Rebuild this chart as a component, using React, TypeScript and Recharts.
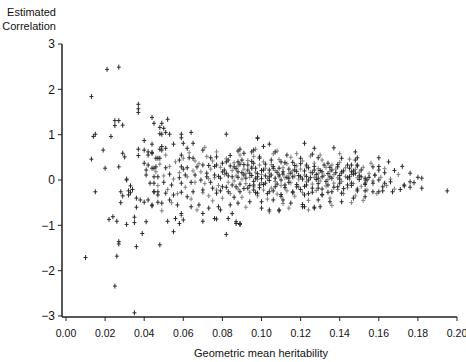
import { Scatter, ScatterChart, XAxis, YAxis } from "recharts";

// [geometric mean heritability, estimated correlation]
const lowHeritability: [number, number][] = [
  [0.021, 2.44], [0.027, 2.49], [0.013, 1.84], [0.037, 1.67], [0.037, 1.57],
  [0.037, 1.49], [0.025, 1.31], [0.027, 1.31], [0.025, 1.2], [0.029, 1.21],
  [0.044, 1.38], [0.045, 1.25], [0.048, 1.16], [0.048, 1.02], [0.049, 1.25],
  [0.052, 1.34], [0.05, 1.14], [0.014, 0.96], [0.015, 1.01], [0.023, 0.96],
  [0.04, 0.87], [0.019, 0.66], [0.029, 0.59], [0.03, 0.51], [0.037, 0.68],
  [0.037, 0.54], [0.04, 0.66], [0.042, 0.62], [0.044, 0.61], [0.048, 0.68],
  [0.042, 0.55], [0.013, 0.46], [0.04, 0.37], [0.042, 0.33], [0.046, 0.48],
  [0.02, 0.26], [0.027, 0.29], [0.041, 0.22], [0.045, 0.26], [0.031, 0.02],
  [0.041, 0.11], [0.015, -0.26], [0.031, 0.0], [0.033, -0.13], [0.034, -0.21],
  [0.028, -0.26], [0.029, -0.35], [0.032, -0.33], [0.032, -0.24], [0.033, -0.28],
  [0.028, -0.5], [0.036, -0.4], [0.036, -0.6], [0.038, -0.44], [0.04, -0.49],
  [0.042, -0.44], [0.044, -0.57], [0.045, -0.26], [0.047, -0.26], [0.047, -0.49],
  [0.043, -0.07], [0.045, 0.07], [0.022, -0.87], [0.024, -0.81], [0.026, -0.91],
  [0.031, -0.98], [0.035, -0.94], [0.035, -0.82], [0.041, -0.92], [0.039, -1.18],
  [0.027, -1.36], [0.027, -1.41], [0.036, -1.47], [0.048, -1.43], [0.01, -1.71],
  [0.026, -1.68], [0.025, -2.34], [0.035, -2.93],
];

const midHeritability: [number, number][] = [
  [0.049, 1.01], [0.051, 1.05], [0.053, 1.01], [0.059, 1.01], [0.059, 0.93],
  [0.064, 1.05], [0.082, 1.01], [0.098, 0.93], [0.044, 0.79], [0.049, 0.74],
  [0.051, 0.7], [0.049, 0.66], [0.055, 0.79], [0.06, 0.81], [0.065, 0.81],
  [0.062, 0.7], [0.047, 0.48], [0.048, 0.48], [0.044, 0.59], [0.059, 0.55],
  [0.058, 0.44], [0.07, 0.66], [0.074, 0.49], [0.077, 0.51], [0.084, 0.54],
  [0.088, 0.64], [0.089, 0.68], [0.091, 0.59], [0.095, 0.62], [0.099, 0.51],
  [0.063, 0.49], [0.065, 0.48], [0.044, 0.26], [0.046, 0.29], [0.051, 0.27],
  [0.059, 0.29], [0.06, 0.24], [0.062, 0.27], [0.067, 0.29], [0.07, 0.33],
  [0.073, 0.32], [0.077, 0.33], [0.08, 0.37], [0.082, 0.4], [0.086, 0.29],
  [0.088, 0.4], [0.09, 0.44], [0.093, 0.33], [0.096, 0.37], [0.066, 0.11],
  [0.061, 0.11], [0.058, 0.05], [0.053, 0.13], [0.047, 0.07], [0.045, -0.07],
  [0.05, -0.05], [0.054, -0.11], [0.059, -0.07], [0.064, -0.05], [0.069, 0.0],
  [0.072, 0.07], [0.076, 0.11], [0.079, 0.04], [0.082, 0.15], [0.085, 0.07],
  [0.088, 0.18], [0.091, 0.11], [0.094, 0.15], [0.097, 0.04], [0.045, -0.26],
  [0.047, -0.33], [0.051, -0.29], [0.055, -0.33], [0.053, -0.44], [0.059, -0.27],
  [0.062, -0.37], [0.065, -0.26], [0.07, -0.22], [0.075, -0.18], [0.077, -0.29],
  [0.08, -0.15], [0.083, -0.26], [0.087, -0.15], [0.089, -0.26], [0.093, -0.18],
  [0.096, -0.22], [0.099, -0.11], [0.044, -0.55], [0.049, -0.51], [0.057, -0.55],
  [0.064, -0.59], [0.068, -0.55], [0.073, -0.62], [0.078, -0.59], [0.084, -0.55],
  [0.088, -0.51], [0.094, -0.48], [0.059, -0.74], [0.07, -0.74], [0.079, -0.66],
  [0.085, -0.74], [0.052, -0.91], [0.056, -0.85], [0.06, -0.88], [0.058, -0.96],
  [0.07, -0.91], [0.077, -0.86], [0.083, -0.85], [0.087, -0.92], [0.089, -0.98],
  [0.055, -1.14], [0.082, -1.2], [0.076, -0.85], [0.087, -0.96], [0.089, -0.96],
  [0.109, -0.66], [0.098, 0.92], [0.122, 0.81], [0.127, 0.7], [0.137, 0.71],
  [0.101, 0.74], [0.104, 0.79], [0.096, 0.66], [0.107, 0.62], [0.113, 0.55],
  [0.12, 0.48], [0.126, 0.57], [0.129, 0.49], [0.141, 0.48], [0.148, 0.44],
  [0.099, 0.48], [0.105, 0.44], [0.11, 0.4], [0.116, 0.39], [0.123, 0.33],
  [0.134, 0.37], [0.139, 0.29], [0.144, 0.33], [0.149, 0.33], [0.095, 0.26],
  [0.101, 0.22], [0.106, 0.26], [0.111, 0.18], [0.117, 0.22], [0.127, 0.22],
  [0.131, 0.18], [0.136, 0.22], [0.141, 0.18], [0.147, 0.2], [0.098, 0.07],
  [0.104, 0.07], [0.109, 0.11], [0.114, 0.04], [0.12, 0.07], [0.124, 0.0],
  [0.129, 0.04], [0.135, 0.07], [0.14, 0.02], [0.145, 0.07], [0.15, 0.09],
  [0.096, -0.11], [0.102, -0.07], [0.107, -0.15], [0.112, -0.11], [0.118, -0.15],
  [0.123, -0.11], [0.129, -0.18], [0.134, -0.11], [0.139, -0.15], [0.144, -0.11],
  [0.098, -0.29], [0.104, -0.26], [0.11, -0.32], [0.116, -0.26], [0.122, -0.33],
  [0.126, -0.27], [0.131, -0.32], [0.136, -0.26], [0.141, -0.29], [0.1, -0.48],
  [0.106, -0.44], [0.111, -0.44], [0.115, -0.51], [0.121, -0.54], [0.129, -0.44],
  [0.135, -0.48], [0.141, -0.48], [0.1, -0.62], [0.104, -0.66], [0.109, -0.68],
  [0.122, -0.59], [0.127, -0.62], [0.13, -0.59], [0.127, -0.6], [0.121, -0.59],
];

const denseCore: [number, number][] = [
  [0.066, 0.42], [0.069, 0.18], [0.071, -0.08], [0.072, 0.52], [0.073, -0.35],
  [0.074, 0.24], [0.075, -0.46], [0.076, 0.05], [0.077, 0.62], [0.078, -0.12],
  [0.079, 0.28], [0.08, -0.4], [0.081, 0.12], [0.082, 0.47], [0.083, -0.05],
  [0.084, -0.3], [0.085, 0.21], [0.086, 0.38], [0.086, -0.02], [0.087, 0.09],
  [0.088, -0.2], [0.088, 0.31], [0.089, 0.55], [0.09, 0.02], [0.09, -0.38],
  [0.091, 0.24], [0.092, -0.08], [0.092, 0.14], [0.093, 0.43], [0.094, -0.27],
  [0.094, 0.06], [0.095, 0.29], [0.096, -0.15], [0.096, 0.52], [0.097, 0.17],
  [0.098, -0.35], [0.098, 0.01], [0.099, 0.33], [0.1, -0.06], [0.1, 0.12],
  [0.101, 0.4], [0.101, -0.22], [0.102, 0.26], [0.103, -0.42], [0.103, 0.03],
  [0.104, 0.15], [0.105, -0.18], [0.105, 0.34], [0.106, 0.58], [0.107, -0.03],
  [0.107, 0.21], [0.108, -0.31], [0.109, 0.08], [0.109, 0.45], [0.11, -0.12],
  [0.111, 0.27], [0.111, -0.52], [0.112, 0.05], [0.113, 0.36], [0.113, -0.24],
  [0.114, 0.14], [0.115, -0.06], [0.115, 0.5], [0.116, 0.2], [0.117, -0.36],
  [0.117, 0.09], [0.118, 0.31], [0.119, -0.15], [0.119, 0.02], [0.12, 0.24],
  [0.121, -0.28], [0.121, 0.42], [0.122, 0.11], [0.123, -0.04], [0.123, 0.29],
  [0.124, -0.45], [0.125, 0.17], [0.125, 0.53], [0.126, -0.09], [0.127, 0.06],
  [0.127, 0.37], [0.128, -0.23], [0.129, 0.14], [0.129, 0.25], [0.13, -0.02],
  [0.131, 0.44], [0.131, -0.34], [0.132, 0.1], [0.133, 0.28], [0.133, -0.13],
  [0.134, 0.01], [0.135, 0.19], [0.135, -0.4], [0.136, 0.33], [0.137, -0.07],
  [0.137, 0.12], [0.138, 0.24], [0.139, -0.21], [0.139, 0.05], [0.14, 0.39],
  [0.141, -0.03], [0.141, 0.15], [0.142, -0.3], [0.143, 0.08], [0.143, 0.27],
  [0.144, -0.17], [0.145, 0.02], [0.145, 0.46], [0.146, 0.12], [0.147, -0.08],
  [0.148, 0.23], [0.148, -0.35], [0.149, 0.05], [0.15, 0.17], [0.151, -0.14],
  [0.152, 0.28], [0.153, 0.0], [0.154, -0.22], [0.155, 0.14], [0.156, 0.37],
  [0.157, -0.02], [0.158, 0.1], [0.159, -0.3], [0.161, 0.06], [0.163, 0.25],
  [0.164, -0.12], [0.166, 0.02], [0.168, -0.2], [0.17, 0.12], [0.046, 0.18],
  [0.047, -0.12], [0.048, 0.35], [0.049, -0.68], [0.05, 0.09], [0.051, 0.55],
  [0.052, -0.21], [0.053, 0.3], [0.054, -0.5], [0.055, 0.02], [0.056, 0.4],
  [0.057, -0.3], [0.058, 0.16], [0.059, -0.78], [0.06, 0.48], [0.061, -0.16],
  [0.062, 0.07], [0.063, 0.6], [0.064, -0.42], [0.065, 0.2], [0.066, -0.05],
  [0.067, -0.66], [0.068, 0.36], [0.07, -0.28], [0.071, 0.72], [0.073, 0.03],
  [0.075, 0.42], [0.077, -0.22], [0.092, -0.6], [0.097, 0.68], [0.104, -0.7],
  [0.108, 0.64], [0.114, -0.62], [0.118, 0.58], [0.124, -0.66], [0.13, 0.55],
  [0.136, -0.56], [0.14, 0.58], [0.146, -0.5], [0.152, -0.45],
];

// the tightest part of the cloud, where marks overlap into dark clumps
const coreCluster: [number, number][] = [
  [0.081, 0.22], [0.083, 0.09], [0.084, 0.31], [0.085, -0.11], [0.087, 0.25],
  [0.088, 0.06], [0.089, -0.09], [0.09, 0.16], [0.091, 0.34], [0.091, -0.19],
  [0.092, 0.04], [0.093, 0.22], [0.094, -0.12], [0.095, 0.1], [0.095, 0.41],
  [0.096, -0.03], [0.097, 0.26], [0.097, -0.28], [0.098, 0.14], [0.099, -0.17],
  [0.1, 0.21], [0.1, 0.03], [0.101, -0.1], [0.102, 0.35], [0.102, 0.09],
  [0.103, -0.3], [0.104, 0.22], [0.104, -0.01], [0.105, 0.11], [0.106, -0.24],
  [0.106, 0.3], [0.107, 0.04], [0.108, 0.17], [0.108, -0.09], [0.109, 0.26],
  [0.11, 0.0], [0.11, -0.36], [0.111, 0.13], [0.112, 0.38], [0.112, -0.17],
  [0.113, 0.06], [0.114, 0.24], [0.114, -0.05], [0.115, 0.15], [0.116, -0.28],
  [0.116, 0.07], [0.117, 0.32], [0.118, -0.1], [0.118, 0.19], [0.119, 0.1],
  [0.12, -0.21], [0.12, 0.36], [0.121, 0.02], [0.122, 0.2], [0.122, -0.14],
  [0.123, 0.08], [0.124, 0.27], [0.124, -0.3], [0.125, 0.05], [0.126, 0.16],
  [0.126, -0.18], [0.127, 0.3], [0.128, 0.01], [0.128, 0.12], [0.129, -0.08],
  [0.13, 0.21], [0.131, -0.2], [0.131, 0.07], [0.132, 0.33], [0.133, -0.03],
  [0.134, 0.14], [0.134, -0.27], [0.135, 0.28], [0.136, 0.04], [0.137, -0.16],
  [0.138, 0.16], [0.139, 0.34], [0.14, -0.07], [0.14, 0.1], [0.142, 0.2],
  [0.142, -0.19], [0.144, 0.05], [0.145, 0.26], [0.146, -0.12], [0.147, 0.13],
  [0.149, -0.2], [0.15, 0.01], [0.151, 0.22], [0.153, -0.1], [0.155, 0.06],
  [0.072, 0.15], [0.074, -0.05], [0.076, 0.3], [0.078, 0.08], [0.079, -0.24],
  [0.08, 0.18], [0.082, -0.16], [0.083, 0.44], [0.086, -0.38], [0.089, 0.35],
];

const highHeritability: [number, number][] = [
  [0.148, 0.62], [0.149, 0.49], [0.16, 0.49], [0.146, 0.33], [0.149, 0.31],
  [0.157, 0.29], [0.16, 0.22], [0.163, 0.16], [0.168, 0.21], [0.176, 0.15],
  [0.18, 0.06], [0.182, 0.04], [0.146, 0.18], [0.148, 0.15], [0.151, 0.07],
  [0.153, 0.04], [0.154, 0.0], [0.158, 0.11], [0.16, 0.0], [0.163, -0.07],
  [0.166, -0.04], [0.146, -0.07], [0.153, -0.07], [0.157, -0.07], [0.173, -0.11],
  [0.176, -0.04], [0.178, -0.06], [0.176, -0.16], [0.182, -0.18], [0.171, -0.21],
  [0.149, -0.24], [0.153, -0.24], [0.157, -0.26], [0.16, -0.26], [0.162, -0.24],
  [0.167, -0.26], [0.195, -0.24], [0.147, -0.4], [0.153, -0.37], [0.162, -0.15],
  [0.16, 0.3], [0.165, 0.4], [0.172, 0.3], [0.173, -0.13],
];

const xTicks = [0, 0.02, 0.04, 0.06, 0.08, 0.1, 0.12, 0.14, 0.16, 0.18, 0.2];
const yTicks = [-3, -2, -1, 0, 1, 2, 3];

const toRows = (pts: [number, number][]) => pts.map(([h, r]) => ({ h, r }));

function Plus(props: any) {
  const { cx, cy, fill } = props;
  if (cx == null || cy == null) return null;
  return (
    <path
      d={`M${cx - 2},${cy}h4M${cx},${cy - 2.5}v5`}
      stroke={fill}
      strokeWidth={1}
      fill="none"
    />
  );
}

export default function App() {
  const dark = toRows([
    ...lowHeritability,
    ...midHeritability,
    ...coreCluster,
    ...highHeritability,
  ]);
  const grey = toRows(denseCore);

  return (
    <div
      style={{
        position: "absolute",
        left: 0,
        top: 0,
        width: 466,
        height: 362,
        background: "#fff",
        fontFamily: "'Liberation Sans', Arial, sans-serif",
        color: "#111",
      }}
    >
      <ScatterChart
        width={466}
        height={362}
        margin={{ top: 44, right: 9, bottom: 0, left: 2 }}
      >
        <XAxis
          type="number"
          dataKey="h"
          domain={[0, 0.2]}
          ticks={xTicks}
          interval={0}
          allowDataOverflow
          padding={{ left: 4, right: 0 }}
          height={45}
          tickSize={4}
          tickMargin={9}
          tickFormatter={(v: number) => v.toFixed(2)}
          tick={{ fill: "#111", fontSize: 10.5 }}
          stroke="#222"
          axisLine={{ stroke: "#222", strokeWidth: 1.5 }}
        />
        <YAxis
          type="number"
          dataKey="r"
          domain={[-3, 3]}
          ticks={yTicks}
          interval={0}
          allowDataOverflow
          padding={{ top: 0, bottom: 1 }}
          width={60}
          tickSize={4}
          tickMargin={3}
          tickFormatter={(v: number) => String(v).replace("-", "\u2212")}
          tick={{ fill: "#111", fontSize: 12 }}
          stroke="#222"
          axisLine={{ stroke: "#222", strokeWidth: 1.5 }}
        />
        <Scatter
          data={grey}
          fill="#808080"
          shape={<Plus />}
          isAnimationActive={false}
        />
        <Scatter
          data={dark}
          fill="#2a2a2a"
          shape={<Plus />}
          isAnimationActive={false}
        />
      </ScatterChart>
      <div
        style={{
          position: "absolute",
          right: 410,
          top: 5,
          fontSize: 11,
          lineHeight: "14px",
          textAlign: "right",
          whiteSpace: "nowrap",
        }}
      >
        Estimated
        <br />
        Correlation
      </div>
      <div
        style={{
          position: "absolute",
          left: 161,
          width: 200,
          top: 346,
          fontSize: 11,
          lineHeight: "14px",
          textAlign: "center",
          whiteSpace: "nowrap",
        }}
      >
        Geometric mean heritability
      </div>
    </div>
  );
}
